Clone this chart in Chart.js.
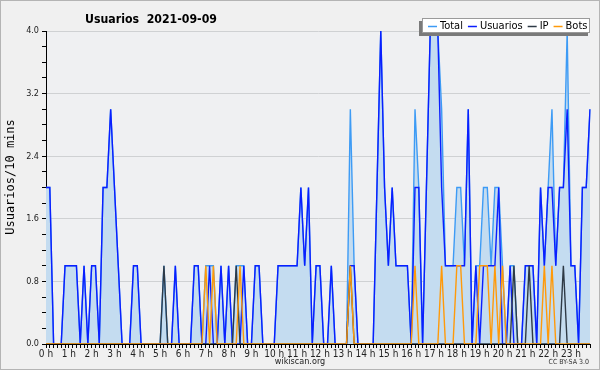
<!DOCTYPE html>
<html>
<head>
<meta charset="utf-8">
<script src="https://cdn.jsdelivr.net/npm/chart.js@4.4.0/dist/chart.umd.min.js"></script>
<style>
  html, body { margin: 0; padding: 0; background: #f0f0f0; }
  #wrap { width: 600px; height: 370px; position: relative; box-sizing: border-box; }
</style>
</head>
<body>
<div id="wrap"><canvas id="chart" width="600" height="370"></canvas></div>
<script>
// 10-minute slots of the day, 0 h .. 23 h 50
const slots = [];
for (let h = 0; h < 24; h++) {
    for (let m = 0; m < 60; m += 10) { slots.push(h + ":" + String(m).padStart(2, "0")); }
}
const hourTicks = ["0 h", "1 h", "2 h", "3 h", "4 h", "5 h", "6 h", "7 h", "8 h", "9 h", "10 h", "11 h",
                   "12 h", "13 h", "14 h", "15 h", "16 h", "17 h", "18 h", "19 h", "20 h", "21 h", "22 h", "23 h"];
const yTicks = [0.0, 0.8, 1.6, 2.4, 3.2, 4.0];

const total = [
    2,2,0,0,0,1, 1,1,1,0,1,0, 1,1,0,2,2,3, 2,1,0,0,0,1, 1,0,0,0,0,0, 0,1,0,0,1,0,
    0,0,0,1,1,0, 1,1,1,0,1,0, 1,0,1,1,1,0, 0,1,1,0,0,0, 0,1,1,1,1,1, 1,2,1,2,0,1,
    1,0,0,1,0,0, 0,0,3,1,0,0, 0,0,0,2,4,2, 1,2,1,1,1,1, 0,3,2,0,2,4, 4,4,3,1,1,1,
    2,2,1,3,0,1, 1,2,2,1,2,2, 1,0,1,1,0,0, 1,1,1,0,2,1, 2,3,1,2,2,4, 1,1,0,2,2,3
];
const usuarios = [
    2,2,0,0,0,1, 1,1,1,0,1,0, 1,1,0,2,2,3, 2,1,0,0,0,1, 1,0,0,0,0,0, 0,0,0,0,1,0,
    0,0,0,1,1,0, 0,1,0,0,1,0, 1,0,0,0,1,0, 0,1,1,0,0,0, 0,1,1,1,1,1, 1,2,1,2,0,1,
    1,0,0,1,0,0, 0,0,1,1,0,0, 0,0,0,2,4,2, 1,2,1,1,1,1, 0,2,2,0,2,4, 4,4,2,1,1,1,
    1,1,1,3,0,1, 0,1,1,1,1,2, 0,0,1,0,0,0, 1,1,1,0,2,1, 2,2,1,2,2,3, 1,1,0,2,2,3
];
const ip = [
    0,0,0,0,0,0, 0,0,0,0,0,0, 0,0,0,0,0,0, 0,0,0,0,0,0, 0,0,0,0,0,0, 0,1,0,0,0,0,
    0,0,0,0,0,0, 0,0,0,0,0,0, 0,0,1,0,0,0, 0,0,0,0,0,0, 0,0,0,0,0,0, 0,0,0,0,0,0,
    0,0,0,0,0,0, 0,0,1,0,0,0, 0,0,0,0,0,0, 0,0,0,0,0,0, 0,0,0,0,0,0, 0,0,0,0,0,0,
    0,0,0,0,0,0, 0,0,0,0,0,0, 0,0,0,1,0,0, 0,1,0,0,0,0, 0,0,0,0,1,0, 0,0,0,0,0,0
];
const bots = [
    0,0,0,0,0,0, 0,0,0,0,0,0, 0,0,0,0,0,0, 0,0,0,0,0,0, 0,0,0,0,0,0, 0,0,0,0,0,0,
    0,0,0,0,0,0, 1,0,1,0,0,0, 0,0,0,1,0,0, 0,0,0,0,0,0, 0,0,0,0,0,0, 0,0,0,0,0,0,
    0,0,0,0,0,0, 0,0,1,0,0,0, 0,0,0,0,0,0, 0,0,0,0,0,0, 0,1,0,0,0,0, 0,0,1,0,0,0,
    1,1,0,0,0,0, 1,1,1,0,1,0, 1,0,0,0,0,0, 0,0,0,0,0,1, 0,1,0,0,0,0, 0,0,0,0,0,0
];

const seriesNames = ["Total", "Usuarios", "IP", "Bots"];
const seriesColors = ["#3d9bf5", "#0a1eff", "#2e3a46", "#ff9a0a"];
const fillColor = "#c4dcf0";

const FONT = "'DejaVu Sans Condensed', 'DejaVu Sans', sans-serif";

// title, legend box and credits are drawn by hand, like the original image
const decorations = {
    id: "decorations",
    beforeDraw(chart) {
        const ctx = chart.ctx;
        const a = chart.chartArea;
        ctx.save();
        ctx.fillStyle = "#f0f0f0";
        ctx.fillRect(0, 0, chart.width, chart.height);
        ctx.fillStyle = "#eff0f2";
        ctx.fillRect(a.left, a.top, a.right - a.left, a.bottom - a.top);
        ctx.strokeStyle = "#b4b4b4";
        ctx.lineWidth = 1;
        ctx.strokeRect(0.5, 0.5, chart.width - 1, chart.height - 1);
        ctx.restore();
    },
    afterDraw(chart) {
        const ctx = chart.ctx;
        ctx.save();
        // title
        ctx.save();
        ctx.fillStyle = "#000";
        ctx.font = "bold 13px " + FONT;
        ctx.textBaseline = "alphabetic";
        ctx.textAlign = "left";
        ctx.translate(85, 23);
        ctx.scale(0.94, 1);
        ctx.fillText("Usuarios  2021-09-09", 0, 0);
        ctx.restore();

        // y axis title
        ctx.save();
        ctx.translate(14, 177);
        ctx.rotate(-Math.PI / 2);
        ctx.textAlign = "center";
        ctx.fillStyle = "#000";
        ctx.font = "12px 'DejaVu Sans Mono', monospace";
        ctx.fillText("Usuarios/10 mins", 0, 0);
        ctx.restore();

        // legend box with shadow
        const bx = 422, by = 18, bw = 168, bh = 15;
        ctx.fillStyle = "#7a7a7a";
        ctx.fillRect(bx - 3, by + 3, bw + 1, bh);
        ctx.fillStyle = "#ffffff";
        ctx.fillRect(bx, by, bw, bh);
        ctx.strokeStyle = "#9a9a9a";
        ctx.strokeRect(bx + 0.5, by + 0.5, bw - 1, bh - 1);
        ctx.font = "11px " + FONT;
        ctx.textBaseline = "middle";
        let x = bx + 6;
        seriesNames.forEach((name, i) => {
            ctx.strokeStyle = seriesColors[i];
            ctx.lineWidth = 1.5;
            ctx.beginPath();
            ctx.moveTo(x, by + 8.5);
            ctx.lineTo(x + 9, by + 8.5);
            ctx.stroke();
            ctx.fillStyle = "#000";
            ctx.fillText(name, x + 12, by + 8);
            x += 12 + ctx.measureText(name).width + 5;
        });

        // credits
        ctx.textBaseline = "alphabetic";
        ctx.textAlign = "center";
        ctx.font = "9px " + FONT;
        ctx.fillStyle = "#222";
        ctx.fillText("wikiscan.org", 300, 364);
        ctx.textAlign = "right";
        ctx.font = "7px " + FONT;
        ctx.fillStyle = "#333";
        ctx.fillText("CC BY-SA 3.0", 589, 364);
        ctx.restore();
    }
};

function lineSet(i, data, extra) {
    return Object.assign({
        label: seriesNames[i],
        data: data,
        borderColor: seriesColors[i],
        borderWidth: 1.4,
        pointRadius: 0,
        tension: 0,
        fill: false,
    }, extra || {});
}

new Chart(document.getElementById("chart"), {
    type: "line",
    data: {
        labels: slots,
        datasets: [
            lineSet(0, total, {fill: "origin", backgroundColor: fillColor, order: 4}),
            lineSet(1, usuarios, {order: 3}),
            lineSet(2, ip, {order: 2}),
            lineSet(3, bots, {order: 1}),
        ],
    },
    options: {
        responsive: false,
        animation: false,
        layout: {padding: {left: 0, right: 10, top: 31, bottom: 0}},
        plugins: {legend: {display: false}, title: {display: false}, tooltip: {enabled: false}},
        scales: {
            x: {
                type: "category",
                offset: false,
                afterFit: (s) => { s.height = 26; },
                border: {color: "#000", width: 1},
                grid: {drawOnChartArea: false, drawTicks: true, tickLength: 4, tickColor: "#000"},
                ticks: {
                    autoSkip: false, maxRotation: 0, minRotation: 0, padding: 0,
                    color: "#222", font: {family: FONT, size: 10},
                    callback: (v, i) => (i % 6 === 0 ? hourTicks[i / 6] : ""),
                },
            },
            y: {
                min: 0, max: 4,
                afterFit: (s) => { s.width = 46; },
                border: {color: "#000", width: 1},
                grid: {
                    color: (c) => (c.tick && yTicks.some(t => Math.abs(t - c.tick.value) < 1e-6) ? "#cfd1d3" : "rgba(0,0,0,0)"),
                    tickColor: "#000", tickLength: 4,
                },
                ticks: {
                    stepSize: 0.2, autoSkip: false, padding: 3,
                    color: "#222", font: {family: FONT, size: 9},
                    callback: (v) => (yTicks.some(t => Math.abs(t - v) < 1e-6) ? v.toFixed(1) : ""),
                },
            },
        },
    },
    plugins: [decorations],
});
</script>
</body>
</html>
